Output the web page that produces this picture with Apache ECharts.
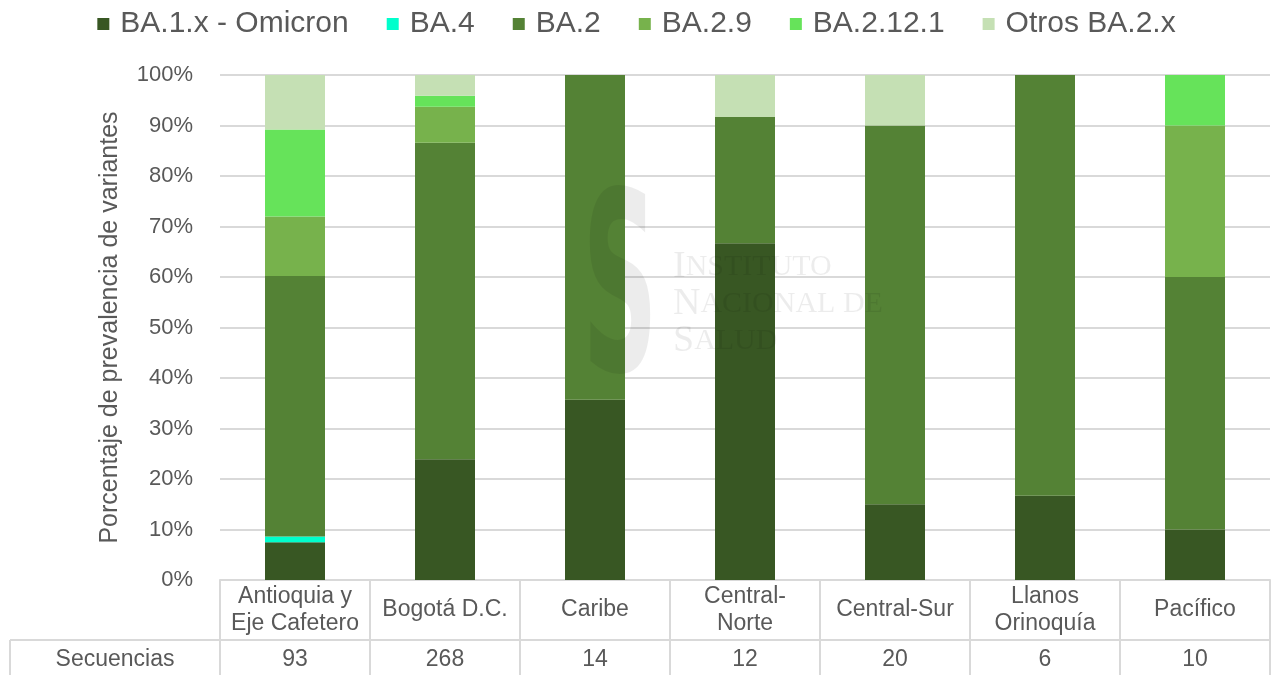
<!DOCTYPE html>
<html><head><meta charset="utf-8">
<script src="https://cdn.jsdelivr.net/npm/echarts@6/dist/echarts.min.js"></script>
<style>html,body{margin:0;padding:0;background:#fff}#c{width:1273px;height:675px}</style>
</head><body><div id="c"></div>
<script>
var categories = ['Antioquia y\nEje Cafetero','Bogotá D.C.','Caribe','Central-\nNorte','Central-Sur','Llanos\nOrinoquía','Pacífico'];
var secuencias = [93,268,14,12,20,6,10];
var yTicks = [0,10,20,30,40,50,60,70,80,90,100];
var seriesNames = ['BA.1.x - Omicron','BA.4','BA.2','BA.2.9','BA.2.12.1','Otros BA.2.x'];
var ba1 = [7.5, 23.9, 35.7, 66.7, 15.0, 16.7, 10.0];
var ba4 = [1.1, 0, 0, 0, 0, 0, 0];
var ba2 = [51.6, 62.7, 64.3, 25.0, 75.0, 83.3, 50.0];
var ba29 = [11.8, 7.1, 0, 0, 0, 0, 30.0];
var ba2121 = [17.2, 2.2, 0, 0, 0, 0, 10.0];
var otros = [10.8, 4.1, 0, 8.3, 10.0, 0, 0];

var colors = ['#385723','#00FFCC','#548235','#77B24C','#66E35A','#C5E0B4'];
var values = [ba1, ba4, ba2, ba29, ba2121, otros];
var font = 'Liberation Sans, Arial, sans-serif';
var txt = '#595959';
var lineC = '#D9D9D9';
var wm = 'rgba(0,0,0,0.075)';

var chart = echarts.init(document.getElementById('c'));
var series = seriesNames.map(function(n,i){
  return {name:n, type:'bar', stack:'a', barWidth:60, data:values[i],
    itemStyle:{color:colors[i]}, xAxisIndex:0, yAxisIndex:0};
});
chart.setOption({
  animation:false,
  textStyle:{fontFamily:font},
  color:colors,
  legend:{top:4, left:'center', icon:'rect', itemWidth:12, itemHeight:12, itemGap:38,
    textStyle:{fontSize:30, color:txt, fontFamily:font, padding:[0,0,0,6]}, data:seriesNames},
  grid:{left:220, right:3, top:75, bottom:95, containLabel:false},
  xAxis:[{
    type:'category', data:categories, position:'bottom',
    axisLine:{show:true, lineStyle:{color:lineC, width:2}},
    axisTick:{show:true, interval:0, length:60, lineStyle:{color:lineC, width:2}},
    axisLabel:{interval:0, margin:30, verticalAlign:'middle', fontSize:23, lineHeight:27, color:txt, fontFamily:font}
  },{
    type:'category', data:categories, position:'bottom', offset:60,
    axisLine:{show:true, lineStyle:{color:lineC, width:2}},
    axisTick:{show:true, interval:0, length:35, lineStyle:{color:lineC, width:2}},
    axisLabel:{interval:0, margin:20, verticalAlign:'middle', fontSize:23, color:txt, fontFamily:font,
      formatter:function(v, i){ return String(secuencias[i]); }}
  }],
  yAxis:{type:'value', min:yTicks[0], max:yTicks[yTicks.length-1], interval:10,
    axisLine:{show:false}, axisTick:{show:false},
    axisLabel:{formatter:'{value}%', fontSize:22, color:txt, margin:27, fontFamily:font},
    splitLine:{lineStyle:{color:lineC, width:2}},
    name:'Porcentaje de prevalencia de variantes', nameLocation:'middle', nameGap:97,
    nameTextStyle:{fontSize:25, color:txt, fontFamily:font}},
  series:series,
  graphic:[
    {type:'line', shape:{x1:10,y1:640,x2:220,y2:640}, style:{stroke:lineC, lineWidth:2}},
    {type:'line', shape:{x1:10,y1:640,x2:10,y2:675}, style:{stroke:lineC, lineWidth:2}},
    {type:'text', x:115, y:660, style:{text:'Secuencias', fontSize:23, fill:txt, fontFamily:font, align:'center', verticalAlign:'middle'}},
    {type:'text', x:620, y:305, z:100, scaleX:0.42, style:{text:'S', fontSize:250, fontWeight:'bold', fontFamily:'DejaVu Sans', fill:wm, align:'center', verticalAlign:'middle'}},
    {type:'text', left:673, top:248, z:100, style:{
      text:'{b|I}{s|NSTITUTO}\n{b|N}{s|ACIONAL DE}\n{b|S}{s|ALUD}',
      lineHeight:37, fill:wm,
      rich:{b:{fontSize:38, fontFamily:'Liberation Serif', fill:wm, lineHeight:37},
            s:{fontSize:30, fontFamily:'Liberation Serif', fill:wm, lineHeight:37}}}}
  ]
});
</script></body></html>
